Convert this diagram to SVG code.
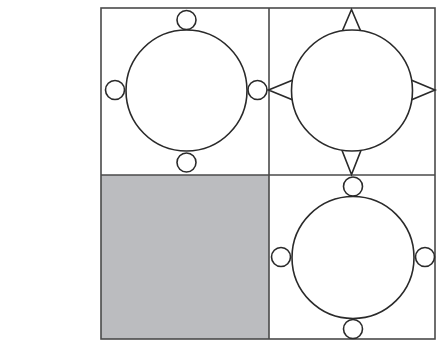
<svg xmlns="http://www.w3.org/2000/svg" width="440" height="345" viewBox="0 0 440 345">
<style>
.ln{fill:none;stroke:#4a4a4a;stroke-width:1.6}
.sh{fill:#fff;stroke:#2a2a2a;stroke-width:1.6}
.fill{fill:#bbbcbf}
</style>
<rect width="440" height="345" fill="#fff"/>
<g id="cell-bl"><rect class="fill" x="101" y="175" width="168" height="164"/></g>
<g id="grid">
<rect class="ln" x="101" y="8" width="334" height="331"/>
<line class="ln" x1="269" y1="8" x2="269" y2="339"/>
<line class="ln" x1="101" y1="175" x2="435" y2="175"/>
</g>
<g id="node-tl">
<circle class="sh" cx="186.5" cy="20" r="9.5"/>
<circle class="sh" cx="115" cy="90" r="9.5"/>
<circle class="sh" cx="257.5" cy="90" r="9.5"/>
<circle class="sh" cx="186.5" cy="162.5" r="9.5"/>
<circle class="sh" cx="186.5" cy="90.5" r="60.5"/>
</g>
<g id="node-tr">
<polygon class="sh" points="351.5,9.5 341.5,33 361.5,33"/>
<polygon class="sh" points="268.5,90 293,80 293,100"/>
<polygon class="sh" points="435,90 411,80 411,100"/>
<polygon class="sh" points="351.5,174.5 341.5,149 361.5,149"/>
<circle class="sh" cx="352" cy="90.5" r="60.5"/>
</g>
<g id="node-br">
<circle class="sh" cx="353" cy="186.5" r="9.5"/>
<circle class="sh" cx="281" cy="257" r="9.5"/>
<circle class="sh" cx="425" cy="257" r="9.5"/>
<circle class="sh" cx="353" cy="329" r="9.5"/>
<circle class="sh" cx="353" cy="257.5" r="61"/>
</g>
</svg>
